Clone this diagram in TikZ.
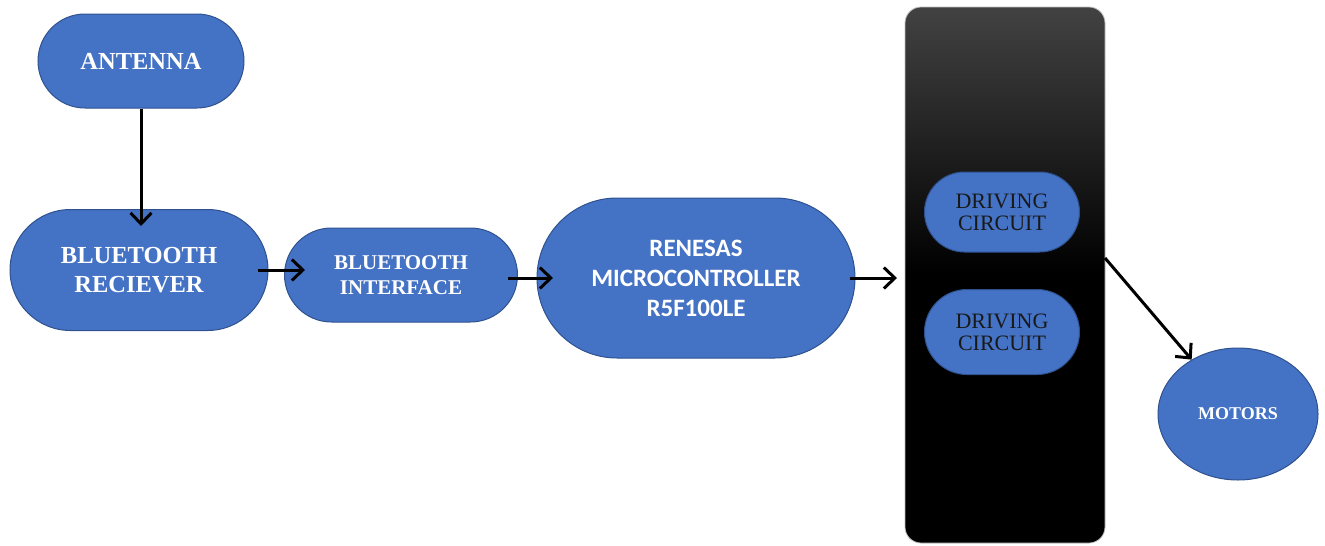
\documentclass[tikz,border=0pt]{standalone}
\usepackage{fontspec}
\setmainfont{Liberation Serif}
\newfontfamily\calib{Carlito}
\usetikzlibrary{shapes.misc,shapes.geometric,arrows.meta}
\definecolor{boxblue}{HTML}{4472C4}
\definecolor{edgeblue}{HTML}{2F528F}
\definecolor{topgray}{RGB}{66,66,66}
\begin{document}
\begin{tikzpicture}[x=1pt,y=-1pt,
  pill/.style={rounded rectangle, fill=boxblue, draw=edgeblue, line width=1pt,
    text=white, align=center, inner sep=0pt},
  flow/.style={line width=3pt, -{Straight Barb[length=11pt,width=21pt,line width=3pt]}},
  big/.style={font=\bfseries\fontsize{24.5}{29}\selectfont},
]
\useasboundingbox (0,0) rectangle (1325,546);
% dark panel
\node[rectangle, rounded corners=16pt, minimum width=200pt, minimum height=536pt,
  top color=topgray, bottom color=black, middle color=black, draw=gray!50, line width=0.8pt, inner sep=0pt]
  (panel) at (1005,275) {};
\node[pill, big, minimum width=206pt, minimum height=94pt] (ant) at (141,61) {ANTENNA};
\node[pill, big, minimum width=258pt, minimum height=121pt] (rec) at (139,270) {BLUETOOTH\\RECIEVER};
\node[pill, minimum width=233pt, minimum height=94pt,
  font=\bfseries\fontsize{21}{25}\selectfont] (int) at (401,275) {BLUETOOTH\\INTERFACE};
\node[pill, minimum width=318pt, minimum height=160pt,
  font=\calib\bfseries\fontsize{25}{30}\selectfont] (ren) at (696,278) {RENESAS\\MICROCONTROLLER\\R5F100LE};
\node[pill, minimum width=155pt, minimum height=80pt, text=black!90,
  font=\fontsize{22}{22}\selectfont] (dc1) at (1002,212) {DRIVING\\CIRCUIT};
\node[pill, minimum width=155pt, minimum height=85pt, text=black!90,
  font=\fontsize{22}{22}\selectfont] (dc2) at (1002,332) {DRIVING\\CIRCUIT};
\node[ellipse, fill=boxblue, draw=edgeblue, line width=1pt, text=white,
  minimum width=160pt, minimum height=132pt, inner sep=0pt,
  font=\bfseries\fontsize{18}{22}\selectfont] (mot) at (1238,414) {MOTORS};
% connectors
\coordinate (recout) at (258,270);
\coordinate (intin) at (305,270);
\coordinate (intout) at (508,278);
\coordinate (renin) at (553,278);
\coordinate (renout) at (850,278);
\coordinate (panin) at (897,278);
\coordinate (panout) at (1105,258);
\draw[flow, shorten >=-17pt] (ant.south) -- (ant.south |- rec.north);
\draw[flow] (recout) -- (intin);
\draw[flow] (intout) -- (renin);
\draw[flow] (renout) -- (panin);
\draw[flow] (panout) -- (mot);
\end{tikzpicture}
\end{document}
